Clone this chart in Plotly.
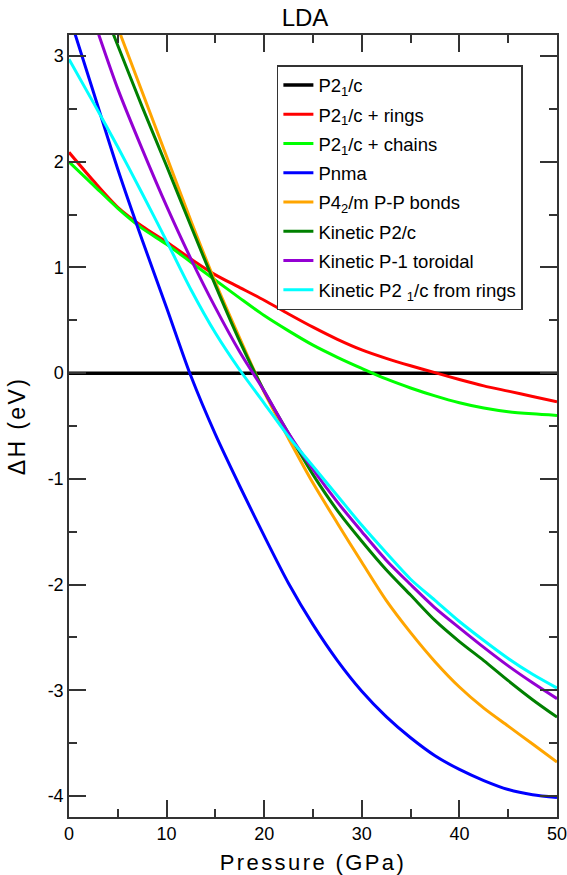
import plotly.graph_objects as go

# ---- data ----
pressure = [0, 2.5, 5, 7.5, 10, 12.5, 15, 17.5, 20, 22.5, 25, 27.5, 30,
            32.5, 35, 37.5, 40, 42.5, 45, 47.5, 50]

p21c = [0.0] * len(pressure)
p21c_rings = [2.09, 1.82, 1.57, 1.39, 1.24, 1.08, 0.93, 0.81, 0.69, 0.56, 0.435,
              0.32, 0.22, 0.14, 0.07, 0.005, -0.06, -0.12, -0.17, -0.22, -0.27]
p21c_chains = [2.00, 1.78, 1.56, 1.37, 1.22, 1.05, 0.88, 0.71, 0.545, 0.40, 0.265,
               0.15, 0.045, -0.055, -0.14, -0.215, -0.28, -0.33, -0.365, -0.385, -0.40]
pnma = [3.39, 2.66, 1.93, 1.26, 0.62, -0.03, -0.58, -1.07, -1.54, -1.99, -2.38,
        -2.72, -3.01, -3.25, -3.45, -3.62, -3.75, -3.855, -3.94, -3.99, -4.015]
p42m = [4.52, 3.88, 3.27, 2.66, 2.05, 1.44, 0.86, 0.33, -0.18, -0.62, -1.04,
        -1.42, -1.79, -2.15, -2.455, -2.73, -2.97, -3.17, -3.34, -3.51, -3.68]
kin_p2c = [4.28, 3.69, 3.10, 2.52, 1.96, 1.39, 0.83, 0.30, -0.17, -0.57, -0.96,
           -1.30, -1.59, -1.86, -2.10, -2.34, -2.54, -2.72, -2.91, -3.09, -3.255]
kin_p1 = [4.02, 3.35, 2.69, 2.12, 1.58, 1.08, 0.62, 0.20, -0.17, -0.57, -0.91,
          -1.22, -1.50, -1.77, -2.00, -2.22, -2.41, -2.595, -2.77, -2.93, -3.08]
kin_rings = [2.97, 2.56, 2.14, 1.70, 1.25, 0.79, 0.38, 0.03, -0.285, -0.60, -0.88,
             -1.16, -1.44, -1.70, -1.95, -2.15, -2.35, -2.53, -2.70, -2.85, -2.98]

names = ["P2<sub>1</sub>/c", "P2<sub>1</sub>/c + rings", "P2<sub>1</sub>/c + chains",
         "Pnma", "P4<sub>2</sub>/m P-P bonds", "Kinetic P2/c",
         "Kinetic P-1 toroidal", "Kinetic P2 <sub>1</sub>/c from rings"]
series = [p21c, p21c_rings, p21c_chains, pnma, p42m, kin_p2c, kin_p1, kin_rings]
colors = ["#000000", "#ff0000", "#00ff00", "#0000ff", "#ffa500", "#008000",
          "#9400d3", "#00ffff"]
widths = [3.5, 3, 3, 3, 3, 3, 3, 3]

x_ticks = [0, 10, 20, 30, 40, 50]
x_ticklabels = ["0", "10", "20", "30", "40", "50"]
y_ticks = [-4, -3, -2, -1, 0, 1, 2, 3]
y_ticklabels = ["-4", "-3", "-2", "-1", "0", "1", "2", "3"]

FONT = "Liberation Sans, Arial, sans-serif"

fig = go.Figure()
for i, (nm, ys, c, w) in enumerate(zip(names, series, colors, widths)):
    fig.add_trace(go.Scatter(
        x=pressure, y=ys, mode="lines", name=nm, legendgroup=f"g{i}",
        line=dict(color=c, width=w, shape="spline", smoothing=0.8),
    ))

axis_common = dict(
    showline=True, linecolor="#333333", linewidth=1.5, mirror="ticks",
    ticks="inside", tickcolor="#333333", tickwidth=1.5, ticklen=17,
    showgrid=False, zeroline=False, automargin=False,
    ticklabeloverflow="allow",
    tickfont=dict(family=FONT, size=18, color="#000000"),
)

fig.update_xaxes(
    range=[0, 50], tickmode="array", tickvals=x_ticks, ticktext=x_ticklabels,
    minor=dict(dtick=5, ticks="inside", ticklen=8, tickcolor="#333333",
               tickwidth=1.5, showgrid=False),
    title=dict(text="Pressure (GPa)", font=dict(family=FONT, size=22, color="#000000"),
               standoff=14),
    **axis_common,
)
fig.update_yaxes(
    range=[-4.2, 3.2], tickmode="array", tickvals=y_ticks, ticktext=y_ticklabels,
    minor=dict(dtick=0.5, ticks="inside", ticklen=8, tickcolor="#333333",
               tickwidth=1.5, showgrid=False),
    title=dict(text="ΔH (eV)", font=dict(family=FONT, size=23, color="#000000"),
               standoff=16),
    **axis_common,
)

fig.update_layout(
    width=567, height=875,
    margin=dict(l=69, r=10, t=35, b=58),
    paper_bgcolor="white", plot_bgcolor="white",
    title=dict(text="LDA", x=305 / 567, xanchor="center", y=1 - 18 / 875,
               yanchor="middle", font=dict(family=FONT, size=24, color="#000000")),
    legend=dict(x=0.426, y=0.9616, xanchor="left", yanchor="top",
                bgcolor="white", bordercolor="#333333", borderwidth=1.5,
                font=dict(family=FONT, size=18.5, color="#000000"),
                tracegroupgap=2.2, itemwidth=30),
    showlegend=True,
)

spacing_js = (
    "var gd=document.getElementById('{plot_id}');"
    "function sp(){gd.querySelectorAll('.xtitle, .ytitle').forEach("
    "function(e){e.style.letterSpacing='2.4px';});}"
    "sp(); gd.on('plotly_afterplot', sp);"
)

fig.write_html("out.html", post_script=spacing_js)
